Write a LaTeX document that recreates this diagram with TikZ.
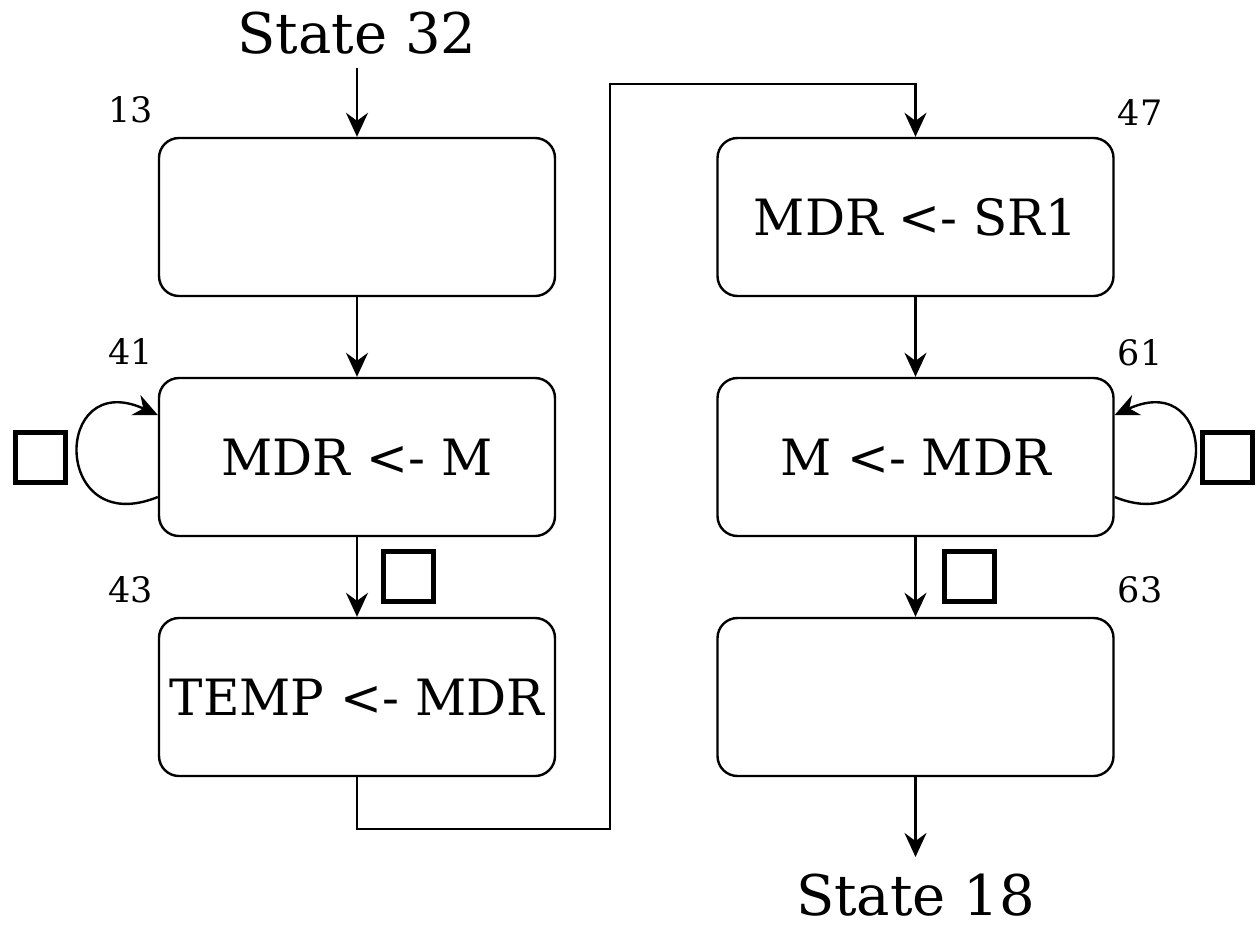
\documentclass[tikz,border=0pt]{standalone}
\usepackage{fontspec}
\setmainfont{DejaVu Serif}
\usetikzlibrary{arrows.meta}
\tikzset{
  stbox/.style={draw, line width=2.4pt, rounded corners=20pt, minimum width=396pt, minimum height=158pt, inner sep=0pt, font=\fontsize{50}{58}\selectfont},
  numlbl/.style={font=\fontsize{35}{40}\selectfont, inner sep=0pt},
  biglbl/.style={font=\fontsize{56}{64}\selectfont, inner sep=0pt, anchor=base, text depth=0pt},
  arr/.style={line width=2.4pt, -{Stealth[length=24pt, width=22pt, inset=8pt]}},
  tofu/.style={draw, line width=5pt, minimum size=50pt, inner sep=0pt},
}
\begin{document}
\begin{tikzpicture}[x=1pt,y=-1pt]
\useasboundingbox (0,0) rectangle (1259,930);
% boxes
\node[stbox] (b13) at (357,217) {};
\node[stbox] (b41) at (357,457) {MDR <- M};
\node[stbox] (b43) at (357,697) {TEMP <- MDR};
\node[stbox] (b47) at (915.5,217) {MDR <- SR1};
\node[stbox] (b61) at (915.5,457) {M <- MDR};
\node[stbox] (b63) at (915.5,697) {};
% numbers
\node[numlbl] (n13) at (131,110) {13};
\node[numlbl] (n41) at (131,352) {41};
\node[numlbl] (n43) at (131,590) {43};
\node[numlbl] (n47) at (1140,113) {47};
\node[numlbl] (n61) at (1140,353) {61};
\node[numlbl] (n63) at (1140,590) {63};
% state labels
\node[biglbl] (s32) at (357,53) {State 32};
\node[biglbl] (s18) at (915.5,915) {State 18};
\coordinate (s32b) at (357,68);
\coordinate (s18t) at (915.5,857);
\coordinate (c1) at (610,829);
\coordinate (c2) at (610,84);
% connectors
\draw[arr] (s32b) -- (b13.north);
\draw[arr] (b13.south) -- (b41.north);
\draw[arr] (b41.south) -- (b43.north);
\draw[arr] (b43.south) |- (c1) -- (c2) -| (b47.north);
\draw[arr] (b47.south) -- (b61.north);
\draw[arr] (b61.south) -- (b63.north);
\draw[arr] (b63.south) -- (s18t);
% self loops
\draw[arr] ([yshift=-40pt]b41.west) .. controls +(-106,43) and +(-106,-48) .. ([yshift=42pt]b41.west);
\draw[arr] ([yshift=-40pt]b61.east) .. controls +(106,43) and +(106,-48) .. ([yshift=42pt]b61.east);
% squares
\node[tofu] (q1) at (40.5,457) {};
\node[tofu] (q2) at (408.5,576.5) {};
\node[tofu] (q3) at (969.5,576.5) {};
\node[tofu] (q4) at (1227.5,457) {};
\end{tikzpicture}
\end{document}
